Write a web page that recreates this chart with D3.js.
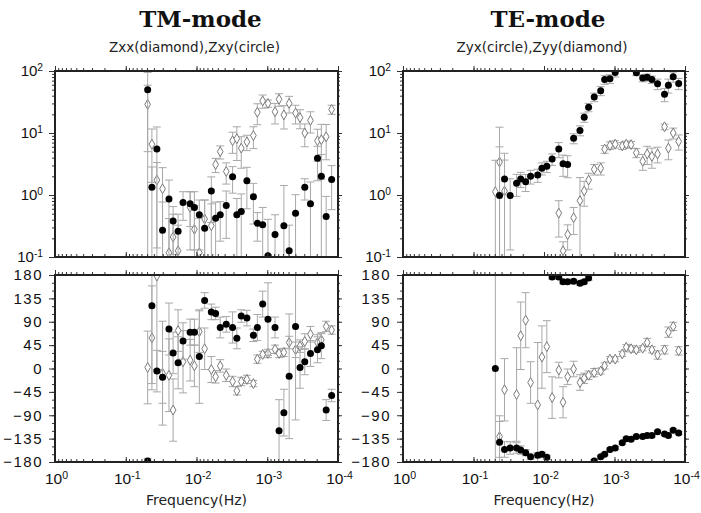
<!DOCTYPE html>
<html>
<head>
<meta charset="utf-8">
<script src="https://cdn.jsdelivr.net/npm/d3@7"></script>
<style>
body { margin: 0; background: #fff; }
svg { font-family: "DejaVu Sans", sans-serif; }
.axis path { display: none; }
.axis line { stroke: #333; stroke-width: 1; }
</style>
</head>
<body>
<div class="container"></div>
<script>
// frequencies (Hz) shared by both modes
const freq = [0.049, 0.0427, 0.0363, 0.0302, 0.0245, 0.0214, 0.0182, 0.0155, 0.0123, 0.0107,
  0.00912, 0.00767, 0.00617, 0.00537, 0.00462, 0.0038, 0.00309, 0.00269, 0.00233, 0.00194,
  0.00157, 0.00138, 0.00116, 0.000977, 0.000776, 0.000681, 0.000582, 0.00049, 0.000398, 0.000344,
  0.000295, 0.000245, 0.000195, 0.000172, 0.000147, 0.000123]

// TM mode
const tmZxxAmp = [29, 6.6, 1.74, 1.26, 0.117, 0.21, 0.126, null, 0.63, 0.28, 0.117, 0.41, 0.32, 3.1, 5.0, 2.4, 7.5, 8.1, 5.7, 7.2,
  9.1, 21.6, 33, 30, 22, 35, 19.6, 30, 21, 17.7, 10, 16, 7.5, 7.8, 8.7, 24]
const tmZxxAmpErr = [30, 5, 1.6, 1.5, 0.3, 0.28, 0.2, null, 0.5, 0.4, 0.3, 0.42, 0.4, 0.8, 1.2, 0.9, 2.8, 4.5, 3, 2,
  3.5, 8, 8, 4, 8, 8, 8, 9, 7, 6, 4, 6, 4, 6, 5, 4]
const tmZxyAmp = [50, 1.33, 5.5, 0.27, 0.86, 0.38, 0.26, 0.76, 0.72, 0.63, 0.48, 0.29, 1.16, 0.42, 0.48, 0.68, 1.97, 0.48, 0.54, 1.7,
  0.94, 0.35, 0.33, 0.105, 0.23, null, 0.32, 0.126, 0.51, null, 1.33, 0.72, 3.9, 2.0, 0.45, 1.78]
const tmZxyAmpErr = [45, 1.5, 7, 0.5, 0.88, 0.27, 0.23, 0.37, 0.41, 0.5, 0.35, 0.54, 0.8, 0.35, 0.3, 0.48, 0.9, 0.4, 0.5, 1.1,
  0.6, 0.17, 0.3, 0.3, 0.25, null, 1.1, 0.2, 0.5, null, 0.5, 0.9, 2.2, 2.5, 0.5, 1.2]
const tmZxxPha = [2, 59, 178, -9, -13, -80, 73, 13, 16, 5, 71, 38, -2, -16, 5, -13, -25, -43, -25, -21,
  -29, 18, 27, 29, 37, 29, 31, 50, 36, 43, 52, 66, 50, 55, 81, 74]
const tmZxxPhaErr = [70, 100, 180, 100, 70, 60, 40, 60, 40, 40, 40, 40, 25, 12, 12, 12, 10, 8, 8, 8,
  6, 8, 6, 8, 8, 8, 8, 12, 15, 12, 15, 15, 15, 12, 10, 8]
const tmZxyPha = [-178, 121, -5, -17, 76, 30, 11, 53, 70, 70, 23, 131, 109, 106, 79, 85, 79, 58, 101, 97,
  64, 79, 124, 95, 79, -120, -85, -15, 81, 2, 13, 29, 36, 44, -80, -52]
const tmZxyPhaErr = [5, 150, 40, 50, 50, 40, 50, 35, 25, 25, 90, 15, 15, 12, 20, 15, 30, 20, 12, 15,
  12, 25, 25, 70, 20, 60, 45, 120, 180, 40, 25, 25, 25, 25, 20, 12]

// TE mode
const teZyxAmp = [null, 0.98, 1.81, 0.98, 1.55, 1.82, 1.64, 2.0, 2.1, 2.7, 2.9, 3.8, 5.5, 3.2, 3.1, 8.2, 11, 17.9, 26, 38,
  48, 73, 75, 95, null, null, null, 94, 77, 79, 73, 62, 42, 59, 81, 63]
const teZyxAmpErr = [null, 5, 2.9, 0.85, 0.6, 0.5, 0.5, 0.5, 0.5, 0.6, 0.6, 0.8, 1.5, 1.2, 1.2, 1.5, 2, 3, 4, 6,
  8, 12, 12, 15, null, null, null, 10, 10, 10, 10, 12, 10, 15, 15, 13]
const teZyyAmp = [1.13, 3.4, 1.16, null, null, null, null, null, null, null, null, null, 0.51, 0.126, 0.23, 0.43, 0.81, 1.16, 1.74, 2.6,
  2.7, 5.5, 6.3, 6.6, 6.2, 6.6, 6.5, 4.8, 3.5, 4.6, 4.2, 4.6, 12.6, 5.7, 10, 7.3]
const teZyyAmpErr = [2.5, 9, 2.5, null, null, null, null, null, null, null, null, null, 0.3, 0.05, 0.1, 0.2, 1.1, 0.5, 0.5, 0.5,
  0.6, 0.8, 0.9, 0.9, 0.8, 0.8, 0.8, 0.8, 1, 1.5, 1.5, 1.3, 1.3, 2, 2, 2]
const teZyxPha = [0, -142, -156, -153, -153, -157, -162, -170, -167, -165, -171, 176, 176, 167, 167, 168, 164, 167, 174, -178,
  -170, -165, -156, -153, -143, -135, -136, -131, -131, -129, -129, -122, -126, -129, -119, -124]
const teZyxPhaErr = [180, 40, 15, 12, 10, 8, 6, 5, 5, 4, 4, 4, 4, 4, 4, 4, 4, 4, 4, 3,
  3, 3, 3, 3, 3, 3, 3, 3, 3, 3, 3, 3, 3, 3, 3, 3]
const teZyyPha = [null, -131, -41, null, -50, 63, 93, -27, -70, 22, 42, -56, -3, -65, -16, -1, -27, -19, -13, -8,
  -5, 5, 18, 18, 28, 41, 38, 36, 39, 50, 36, 26, 36, 70, 81, 34]
const teZyyPhaErr = [null, 40, 60, null, 90, 65, 53, 40, 120, 60, 50, 40, 15, 30, 15, 15, 15, 10, 8, 8,
  6, 6, 5, 5, 5, 5, 6, 5, 5, 8, 6, 8, 8, 10, 8, 8]

// tick labels
const freqTicks = [1, 0.1, 0.01, 0.001, 0.0001]
const freqTickExp = ["0", "-1", "-2", "-3", "-4"]
const ampTicks = [0.1, 1, 10, 100]
const ampTickExp = ["-1", "0", "1", "2"]
const phaTicks = [-180, -135, -90, -45, 0, 45, 90, 135, 180]
const titles = ["TM-mode", "TE-mode"]
const subtitles = ["Zxx(diamond),Zxy(circle)", "Zyx(circle),Zyy(diamond)"]

const w = 701
const h = 513
const cols = [{ left: 55, right: 338 }, { left: 403, right: 685 }]
const ampTop = 71, ampBottom = 257
const phaTop = 275, phaBottom = 462

const svg = d3.select(".container").append("svg")
  .attr("width", w)
  .attr("height", h)

let clipCount = 0

function supLabel(sel, exps, values) {
  sel.each(function (d) {
    const t = d3.select(this)
    const i = values.indexOf(d)
    t.text(null)
    t.append("tspan").text("10")
    t.append("tspan").attr("dy", "-0.5em").attr("font-size", "0.68em").text(exps[i])
  })
}

function drawFrame(xScale, yScale, majorY, minorY, yExps, xLabels) {
  const [x0, x1] = xScale.range()
  const [y0, y1] = yScale.range() // bottom, top
  const minorX = xScale.ticks()

  // top edge
  svg.append("g").attr("class", "axis").attr("transform", "translate(0," + y1 + ")")
    .call(d3.axisTop(xScale).tickValues(minorX).tickSize(3).tickFormat(""))
  svg.append("g").attr("class", "axis").attr("transform", "translate(0," + y1 + ")")
    .call(d3.axisTop(xScale).tickValues(freqTicks).tickSize(5).tickFormat(""))
  // bottom edge, ticks point up
  svg.append("g").attr("class", "axis").attr("transform", "translate(0," + y0 + ")")
    .call(d3.axisBottom(xScale).tickValues(minorX).tickSize(-3).tickFormat(""))
  const xb = svg.append("g").attr("class", "axis").attr("transform", "translate(0," + y0 + ")")
    .call(d3.axisBottom(xScale).tickValues(freqTicks).tickSize(-5).tickPadding(11))
  if (xLabels) {
    xb.selectAll(".tick text").attr("font-size", 15.5).attr("fill", "#111").attr("x", 1)
      .call(supLabel, freqTickExp, freqTicks)
  } else {
    xb.selectAll(".tick text").remove()
  }

  // left edge
  svg.append("g").attr("class", "axis").attr("transform", "translate(" + x0 + ",0)")
    .call(d3.axisLeft(yScale).tickValues(minorY).tickSize(3).tickFormat(""))
  const yl = svg.append("g").attr("class", "axis").attr("transform", "translate(" + x0 + ",0)")
    .call(d3.axisLeft(yScale).tickValues(majorY).tickSize(6).tickPadding(6))
  yl.selectAll(".tick text").attr("font-size", 15).attr("fill", "#111")
  if (yExps) {
    yl.selectAll(".tick text").call(supLabel, yExps, majorY)
  } else {
    yl.selectAll(".tick text").attr("letter-spacing", "1.5px")
  }
  // right edge
  svg.append("g").attr("class", "axis").attr("transform", "translate(" + x1 + ",0)")
    .call(d3.axisRight(yScale).tickValues(minorY).tickSize(2).tickFormat(""))
  svg.append("g").attr("class", "axis").attr("transform", "translate(" + x1 + ",0)")
    .call(d3.axisRight(yScale).tickValues(majorY).tickSize(4).tickFormat(""))

  svg.append("rect")
    .attr("x", x0).attr("y", y1)
    .attr("width", x1 - x0).attr("height", y0 - y1)
    .attr("fill", "none")
    .attr("stroke", "#222")
    .attr("stroke-width", 2)
}

function drawSeries(xScale, yScale, vals, errs, kind, isLog) {
  const [x0, x1] = xScale.range()
  const [y0, y1] = yScale.range()
  const id = "clip" + (clipCount++)
  svg.append("clipPath").attr("id", id)
    .append("rect").attr("x", x0).attr("y", y1).attr("width", x1 - x0).attr("height", y0 - y1)

  const pts = freq.map((f, i) => ({ f: f, v: vals[i], e: errs[i] })).filter(d => d.v !== null)
  const g = svg.append("g").attr("clip-path", "url(#" + id + ")")

  const lo = d => {
    const v = d.v - d.e
    if (isLog) return v > 0 ? yScale(v) : y0 + 10
    return yScale(v)
  }
  const hi = d => yScale(d.v + d.e)

  const bars = g.append("g").attr("stroke", "#a8a8a8").attr("stroke-width", 1)
  bars.selectAll(".bar")
    .data(pts)
    .enter()
    .append("line")
    .attr("x1", d => xScale(d.f)).attr("x2", d => xScale(d.f))
    .attr("y1", d => lo(d)).attr("y2", d => hi(d))
  bars.selectAll(".capHi")
    .data(pts)
    .enter()
    .append("line")
    .attr("x1", d => xScale(d.f) - 4).attr("x2", d => xScale(d.f) + 4)
    .attr("y1", d => hi(d)).attr("y2", d => hi(d))
  bars.selectAll(".capLo")
    .data(pts)
    .enter()
    .append("line")
    .attr("x1", d => xScale(d.f) - 4).attr("x2", d => xScale(d.f) + 4)
    .attr("y1", d => lo(d)).attr("y2", d => lo(d))

  return { g: g, pts: pts, kind: kind }
}

function drawMarks(s, xScale, yScale) {
  if (s.kind === "diamond") {
    s.g.selectAll(".dia")
      .data(s.pts)
      .enter()
      .append("path")
      .attr("d", d3.symbol().type(d3.symbolDiamond).size(28))
      .attr("transform", d => "translate(" + xScale(d.f) + "," + yScale(d.v) + ")")
      .attr("fill", "#fff")
      .attr("stroke", "#7a7a7a")
      .attr("stroke-width", 1)
  } else {
    s.g.selectAll(".dot")
      .data(s.pts)
      .enter()
      .append("circle")
      .attr("cx", d => xScale(d.f))
      .attr("cy", d => yScale(d.v))
      .attr("r", 3.5)
      .attr("fill", "#000")
  }
}

const modes = [
  { amp: [[tmZxxAmp, tmZxxAmpErr, "diamond"], [tmZxyAmp, tmZxyAmpErr, "circle"]],
    pha: [[tmZxxPha, tmZxxPhaErr, "diamond"], [tmZxyPha, tmZxyPhaErr, "circle"]] },
  { amp: [[teZyyAmp, teZyyAmpErr, "diamond"], [teZyxAmp, teZyxAmpErr, "circle"]],
    pha: [[teZyyPha, teZyyPhaErr, "diamond"], [teZyxPha, teZyxPhaErr, "circle"]] }
]

cols.forEach((c, k) => {
  const xScale = d3.scaleLog().domain([1, 0.0001]).range([c.left, c.right])
  const yAmp = d3.scaleLog().domain([0.1, 100]).range([ampBottom, ampTop])
  const yPha = d3.scaleLinear().domain([-180, 180]).range([phaBottom, phaTop])

  const ampSeries = modes[k].amp.map(s => drawSeries(xScale, yAmp, s[0], s[1], s[2], true))
  ampSeries.forEach(s => drawMarks(s, xScale, yAmp))
  const phaSeries = modes[k].pha.map(s => drawSeries(xScale, yPha, s[0], s[1], s[2], false))
  phaSeries.forEach(s => drawMarks(s, xScale, yPha))

  drawFrame(xScale, yAmp, ampTicks, yAmp.ticks(), ampTickExp, false)
  drawFrame(xScale, yPha, phaTicks, d3.range(-180, 181, 15), null, true)

  const mid = (c.left + c.right) / 2
  svg.append("text")
    .attr("x", mid + 4).attr("y", 27)
    .attr("text-anchor", "middle")
    .attr("font-family", "DejaVu Serif")
    .attr("font-weight", "bold")
    .attr("font-size", 23)
    .attr("fill", "#111")
    .text(titles[k])
  svg.append("text")
    .attr("x", mid - 2).attr("y", 52)
    .attr("text-anchor", "middle")
    .attr("font-size", 13.5)
    .attr("fill", "#222")
    .text(subtitles[k])
  svg.append("text")
    .attr("x", mid).attr("y", 505)
    .attr("text-anchor", "middle")
    .attr("font-size", 14)
    .attr("fill", "#222")
    .text("Frequency(Hz)")
})
</script>
</body>
</html>
